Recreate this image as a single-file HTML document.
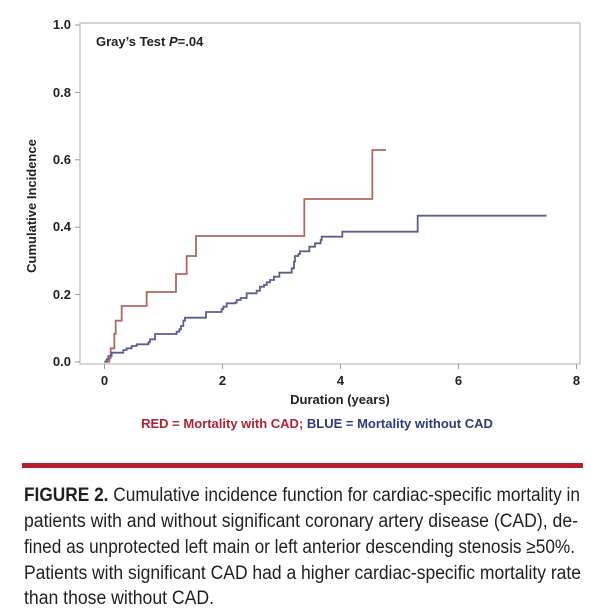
<!DOCTYPE html>
<html><head><style>
body{margin:0;background:#fff;width:611px;height:616px;overflow:hidden;font-family:"Liberation Sans",sans-serif;}
</style></head><body>
<svg width="611" height="616" style="position:absolute;left:0;top:0" font-family="Liberation Sans, sans-serif">
<rect x="80" y="23" width="500" height="341" fill="none" stroke="#bbb" stroke-width="1.2"/>
<g stroke="#999" stroke-width="1">
<line x1="75" y1="362" x2="80" y2="362"/><line x1="75" y1="294.6" x2="80" y2="294.6"/><line x1="75" y1="227.2" x2="80" y2="227.2"/><line x1="75" y1="159.8" x2="80" y2="159.8"/><line x1="75" y1="92.4" x2="80" y2="92.4"/><line x1="75" y1="25" x2="80" y2="25"/>
<line x1="104.5" y1="364" x2="104.5" y2="369"/><line x1="222.5" y1="364" x2="222.5" y2="369"/><line x1="340.5" y1="364" x2="340.5" y2="369"/><line x1="458.5" y1="364" x2="458.5" y2="369"/><line x1="576.5" y1="364" x2="576.5" y2="369"/>
</g>
<g font-size="13" font-weight="bold" fill="#222" text-anchor="end">
<text x="71" y="366">0.0</text><text x="71" y="299">0.2</text><text x="71" y="231">0.4</text><text x="71" y="164">0.6</text><text x="71" y="97">0.8</text><text x="71" y="29">1.0</text>
</g>
<g font-size="13" font-weight="bold" fill="#222" text-anchor="middle">
<text x="104.5" y="385">0</text><text x="222.5" y="385">2</text><text x="340.5" y="385">4</text><text x="458.5" y="385">6</text><text x="576.5" y="385">8</text>
<text x="340" y="404">Duration (years)</text>
<text transform="translate(36,206) rotate(-90)">Cumulative Incidence</text>
</g>
<text x="96" y="46" font-size="13" font-weight="bold" fill="#222">Gray’s Test <tspan font-style="italic">P</tspan>=.04</text>
<text x="317" y="428" font-size="13" font-weight="bold" text-anchor="middle"><tspan fill="#b22232">RED = Mortality with CAD; </tspan><tspan fill="#2e3a80">BLUE = Mortality without CAD</tspan></text>
<path id="red" fill="none" stroke="#b0685e" stroke-width="1.8"/>
<path id="blue" fill="none" stroke="#5a5f8f" stroke-width="1.8"/>
<rect x="22" y="463" width="561" height="5" fill="#b81f2e"/>
<g font-size="19" fill="#231f20">
<text x="24" y="501" textLength="556" lengthAdjust="spacingAndGlyphs"><tspan font-weight="bold">FIGURE 2.</tspan> Cumulative incidence function for cardiac-specific mortality in</text>
<text x="24" y="527" textLength="554" lengthAdjust="spacingAndGlyphs">patients with and without significant coronary artery disease (CAD), de-</text>
<text x="24" y="553" textLength="551" lengthAdjust="spacingAndGlyphs">fined as unprotected left main or left anterior descending stenosis ≥50%.</text>
<text x="24" y="579" textLength="557" lengthAdjust="spacingAndGlyphs">Patients with significant CAD had a higher cardiac-specific mortality rate</text>
<text x="24" y="604" textLength="190" lengthAdjust="spacingAndGlyphs">than those without CAD.</text>
</g>
</svg>
<script>
function P(pts,endx){var d="M"+(pts[0][0]/3+70)+" "+(pts[0][1]/3+130);for(var i=1;i<pts.length;i++){d+=" H"+(pts[i][0]/3+70)+" V"+(pts[i][1]/3+130);}if(endx)d+=" H"+endx;return d;}
var red=[[103,695],[118,685],[122,655],[133,612],[137,572],[155,528],[230,486],[318,432],[350,378],[378,318],[703,207],[907,60]];
var blue=[[103,695],[110,688],[115,678],[125,668],[160,660],[170,655],[185,648],[200,643],[235,637],[240,628],[255,612],[320,605],[328,598],[333,588],[340,572],[345,563],[408,546],[450,546],[455,537],[460,530],[470,520],[495,518],[500,510],[512,504],[530,490],[560,482],[570,470],[582,465],[590,457],[600,450],[612,440],[628,428],[665,415],[672,395],[675,378],[685,372],[690,364],[718,350],[735,340],[752,330],[755,320],[817,305],[1043,257]];
document.getElementById("red").setAttribute("d",P(red,386));
document.getElementById("blue").setAttribute("d",P(blue,546.5));
</script>
</body></html>
